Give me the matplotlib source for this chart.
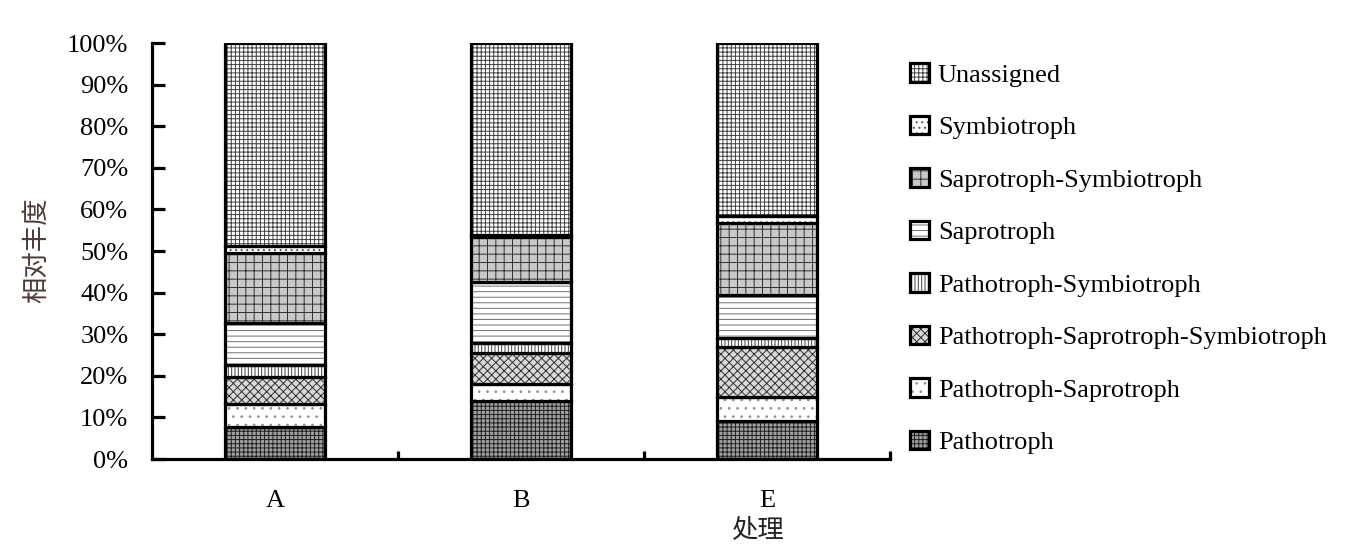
import numpy as np
import matplotlib
matplotlib.use('Agg')
import matplotlib.pyplot as plt
from matplotlib.patches import Patch
from matplotlib.legend_handler import HandlerTuple

plt.rcParams['font.family'] = ['Liberation Serif', 'Noto Sans CJK SC']
plt.rcParams['hatch.linewidth'] = 0.7

# 数据 (%), 从下往上堆叠
groups = ['A', 'B', 'E']
guilds = ['Pathotroph', 'Pathotroph-Saprotroph',
          'Pathotroph-Saprotroph-Symbiotroph', 'Pathotroph-Symbiotroph',
          'Saprotroph', 'Saprotroph-Symbiotroph', 'Symbiotroph', 'Unassigned']
pathotroph = [7.6, 14.0, 9.1]
patho_sapro = [5.6, 4.0, 5.7]
patho_sapro_sym = [6.6, 7.6, 12.1]
patho_sym = [2.8, 2.4, 2.1]
saprotroph = [10.2, 14.6, 10.4]
sapro_sym = [16.8, 10.7, 17.3]
symbiotroph = [1.7, 0.6, 1.6]
unassigned = [48.7, 46.1, 41.7]

data = [pathotroph, patho_sapro, patho_sapro_sym, patho_sym,
        saprotroph, sapro_sym, symbiotroph, unassigned]

# 填充样式 (face, hatch, hatch color)
styles = [('#a0a0a0', '++++', '#202020'),
          ('white', '..', '#909090'),
          ('#d8d8d8', 'xxxx', '#303030'),
          ('white', '|||||', '#404040'),
          ('white', '---', '#707070'),
          ('#c8c8c8', '++', '#303030'),
          ('white', '...', '#505050'),
          ('white', '++++', '#404040')]

fs = 19

fig = plt.figure(figsize=(13.52, 5.59), dpi=100)
ax = fig.add_axes([152/1352, 1-459/559, (890-152)/1352, (459-43)/559])

x = np.arange(len(groups))
w = 0.406
bottom = np.zeros(len(groups))
handles = []
for vals, (fc, h, hc) in zip(data, styles):
    vals = np.array(vals)
    ax.bar(x, vals, w, bottom=bottom, color=fc, edgecolor=hc, hatch=h, linewidth=0)
    ax.bar(x, vals, w, bottom=bottom, fill=False, edgecolor='black', linewidth=2.3)
    bottom += vals
    handles.append((Patch(facecolor=fc, edgecolor=hc, hatch=h, linewidth=0),
                    Patch(fill=False, edgecolor='black', linewidth=2.3)))

ax.set_xlim(-0.5, 2.5)
ax.set_ylim(0, 100)
ax.spines['top'].set_visible(False)
ax.spines['right'].set_visible(False)
for s in ['left', 'bottom']:
    ax.spines[s].set_linewidth(2.3)

ax.set_yticks(np.arange(0, 101, 10))
ax.set_yticklabels([f'{v}%' for v in range(0, 101, 10)], fontsize=fs)
ax.tick_params(axis='y', direction='in', length=9, width=2.3, pad=17)

ax.set_xticks(x)
ax.set_xticklabels(groups, fontsize=fs)
ax.set_xticks([0.5, 1.5, 2.5], minor=True)
ax.tick_params(axis='x', which='major', length=0, pad=22)
ax.tick_params(axis='x', which='minor', direction='in', length=6, width=2.3)

fig.text(37/1352, 1-250/559, '相对丰度', rotation=90, ha='center', va='center',
         fontsize=fs, color='#4a3c35', family=['Noto Sans CJK SC'])
fig.text(757/1352, 1-530/559, '处理', ha='center', va='center',
         fontsize=fs, color='#222222', family=['Noto Sans CJK SC'])

leg = fig.legend(handles[::-1], guilds[::-1], loc='upper left',
                 bbox_to_anchor=(897/1352, 1-50/559), frameon=False,
                 fontsize=fs, handlelength=0.7, handleheight=0.7,
                 handletextpad=0.35, labelspacing=1.1, borderpad=0,
                 handler_map={tuple: HandlerTuple(ndivide=1, pad=0)})

fig.savefig('out.png', dpi=100)
